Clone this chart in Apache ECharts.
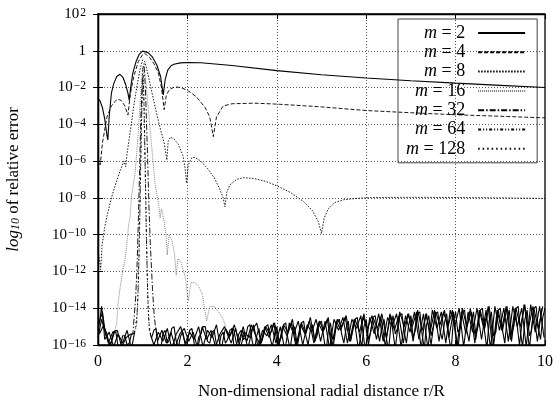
<!DOCTYPE html>
<html><head><meta charset="utf-8">
<script src="https://cdn.jsdelivr.net/npm/echarts@6/dist/echarts.min.js"></script>
<style>html,body{margin:0;padding:0;background:#fff}#c{width:553px;height:401px}</style>
</head><body><div id="c"></div>
<script>
// x tick labels and y exponent ticks
const xTicks = [0, 2, 4, 6, 8, 10];
const yExponents = [-16, -14, -12, -10, -8, -6, -4, -2, 0, 2];
const seriesNames = ['m = 2', 'm = 4', 'm = 8', 'm = 16', 'm = 32', 'm = 64', 'm = 128'];

// each point: [r/R, log10(relative error)]; null = break in the line
const m2 = [[0,-2.57],[0.05,-2.75],[0.1,-3.1],[0.15,-3.7],[0.2,-4.6],[0.22,-4.85],[0.25,-3.6],[0.3,-2.3],[0.35,-1.8],[0.42,-1.4],[0.49,-1.28],[0.56,-1.45],[0.62,-1.85],[0.67,-2.3],[0.7,-2.7],[0.73,-2.0],[0.78,-1.2],[0.85,-0.6],[0.92,-0.2],[1.0,-0.02],[1.04,0],[1.12,-0.1],[1.22,-0.35],[1.32,-0.8],[1.4,-1.4],[1.46,-2.4],[1.5,-1.6],[1.56,-1.05],[1.64,-0.8],[1.72,-0.72],[1.85,-0.66],[2.0,-0.64],[2.3,-0.65],[3.0,-0.8],[4.0,-1.08],[5.0,-1.3],[6.0,-1.48],[7.0,-1.63],[8.0,-1.76],[9.0,-1.88],[10.0,-2.0]];

const m4 = [[0,-5.8],[0.05,-6.2],[0.1,-5.0],[0.2,-3.6],[0.3,-3.0],[0.4,-2.7],[0.45,-2.64],[0.52,-2.7],[0.6,-3.0],[0.67,-3.5],[0.72,-2.4],[0.8,-1.4],[0.9,-0.6],[1.0,-0.2],[1.05,-0.15],[1.15,-0.35],[1.25,-0.7],[1.35,-1.2],[1.42,-2.0],[1.48,-3.2],[1.53,-2.4],[1.6,-2.1],[1.72,-1.96],[1.85,-2.0],[2.0,-2.15],[2.2,-2.5],[2.4,-3.1],[2.5,-3.6],[2.58,-4.67],[2.65,-3.6],[2.8,-3.0],[3.0,-2.88],[3.5,-2.85],[4.0,-2.9],[5.0,-3.05],[6.0,-3.25],[7.0,-3.37],[8.0,-3.48],[9.0,-3.56],[10.0,-3.65]];

const m8 = [[0,-10.9],[0.03,-11.3],[0.06,-11.9],[0.09,-10.6],[0.15,-9.6],[0.2,-9.0],[0.3,-8.0],[0.4,-7.2],[0.5,-6.5],[0.58,-6.0],[0.62,-6.3],[0.65,-5.6],[0.72,-4.4],[0.8,-3.0],[0.88,-1.8],[0.95,-0.9],[1.0,-0.5],[1.05,-0.6],[1.12,-1.3],[1.2,-2.2],[1.31,-3.4],[1.4,-4.3],[1.48,-5.0],[1.54,-5.94],[1.57,-4.9],[1.62,-4.7],[1.7,-4.8],[1.8,-5.1],[1.9,-5.7],[1.95,-6.4],[1.98,-7.2],[2.02,-6.2],[2.1,-5.8],[2.17,-5.8],[2.3,-6.0],[2.45,-6.4],[2.6,-6.9],[2.72,-7.5],[2.8,-8.0],[2.84,-8.48],[2.88,-7.7],[2.95,-7.3],[3.1,-7.0],[3.25,-6.9],[3.5,-6.95],[3.75,-7.1],[4.0,-7.34],[4.3,-7.7],[4.6,-8.2],[4.8,-8.7],[4.93,-9.3],[5.0,-9.93],[5.06,-9.1],[5.15,-8.6],[5.3,-8.25],[5.5,-8.1],[5.8,-8.02],[6.2,-7.98],[7,-7.97],[8,-7.98],[9,-8.0],[10,-8.03]];

const m16 = [[0.38,-15.2],[0.42,-14.8],[0.45,-13.7],[0.5,-12.8],[0.55,-12.0],[0.6,-11.4],[0.64,-10.65],[0.68,-9.6],[0.72,-9.0],[0.75,-7.9],[0.83,-6.67],[0.9,-4.5],[0.95,-2.5],[1.0,-1.0],[1.05,-1.2],[1.12,-3.0],[1.2,-5.2],[1.28,-7.3],[1.36,-8.4],[1.39,-9.1],[1.42,-8.6],[1.48,-9.3],[1.52,-10.0],[1.55,-11.1],[1.59,-10.0],[1.65,-10.3],[1.71,-11.0],[1.75,-12.2],[1.79,-11.3],[1.86,-11.5],[1.95,-12.3],[2.02,-13.6],[2.08,-12.6],[2.16,-12.6],[2.25,-12.8],[2.34,-13.3],[2.43,-14.7],[2.5,-13.9],[2.6,-13.9],[2.7,-14.2],[2.8,-14.6],[2.87,-15.1]];
const m16Floor = [[0,-15.6],[0.08,-14.6],[0.18,-15.5],[0.28,-16.0],[0.38,-15.2],[1.5,null],[2.88,-15.3],[2.98,-15.9],[3.08,-15.1],[3.18,-16.2],[3.28,-15.3],[3.38,-15.6],[3.48,-14.9],[3.58,-16.1],[3.68,-15.2],[3.78,-15.5],[3.88,-14.9],[3.98,-15.9],[4.08,-15.0],[4.18,-16.3],[4.28,-14.8],[4.38,-15.4],[4.48,-14.7],[4.58,-16.0],[4.68,-14.9],[4.78,-15.3],[4.88,-14.6],[4.98,-15.8],[5.08,-14.7],[5.18,-16.2],[5.28,-14.6],[5.38,-15.2],[5.48,-14.5],[5.58,-15.9],[5.68,-14.6],[5.78,-15.1],[5.88,-14.4],[5.98,-16.3],[6.08,-14.5],[6.18,-15.4],[6.28,-14.3],[6.38,-15.8],[6.48,-14.5],[6.58,-15.0],[6.68,-14.3],[6.78,-16.1],[6.88,-14.4],[6.98,-15.3],[7.08,-14.2],[7.18,-15.7],[7.28,-14.3],[7.38,-16.2],[7.48,-14.1],[7.58,-15.1],[7.68,-14.2],[7.78,-15.9],[7.88,-14.1],[7.98,-15.0],[8.08,-14.0],[8.18,-16.1],[8.28,-14.2],[8.38,-15.3],[8.48,-14.0],[8.58,-15.7],[8.68,-14.1],[8.78,-16.2],[8.88,-13.9],[8.98,-15.2],[9.08,-14.0],[9.18,-15.8],[9.28,-13.9],[9.38,-15.0],[9.48,-14.0],[9.58,-16.1],[9.68,-13.8],[9.78,-15.3],[9.88,-13.9],[9.98,-15.6]];

const m32 = [[0.73,-15.4],[0.78,-15.4],[0.84,-13.5],[0.87,-12.0],[0.9,-9.5],[0.93,-6.5],[0.96,-3.5],[1.0,-1.0],[1.03,-0.7],[1.06,-2.0],[1.1,-5.0],[1.14,-8.5],[1.17,-10.5],[1.22,-13.0],[1.26,-14.5],[1.33,-15.8]];
const m32Floor = [[0.03,-15.4],[0.13,-14.9],[0.23,-15.9],[0.33,-15.3],[0.43,-15.2],[0.53,-16.1],[0.63,-15.6],[0.73,-15.4],[1.0,null],[1.33,-15.8],[1.43,-15.2],[1.53,-15.9],[1.63,-15.3],[1.73,-16.1],[1.83,-15.4],[1.93,-15.1],[2.03,-15.8],[2.13,-15.3],[2.23,-16.2],[2.33,-15.0],[2.43,-15.7],[2.53,-15.2],[2.63,-16.1],[2.73,-15.4],[2.83,-15.0],[2.93,-15.6],[3.03,-15.1],[3.13,-16.3],[3.23,-15.2],[3.33,-15.8],[3.43,-14.9],[3.53,-15.5],[3.63,-16.0],[3.73,-15.0],[3.83,-15.6],[3.93,-14.8],[4.03,-16.2],[4.13,-15.0],[4.23,-15.5],[4.33,-14.8],[4.43,-16.1],[4.53,-14.9],[4.63,-15.4],[4.73,-14.7],[4.83,-15.9],[4.93,-14.8],[5.03,-15.3],[5.13,-14.6],[5.23,-16.2],[5.33,-14.7],[5.43,-15.2],[5.53,-14.5],[5.63,-15.8],[5.73,-14.6],[5.83,-16.3],[5.93,-14.5],[6.03,-15.1],[6.13,-14.4],[6.23,-15.7],[6.33,-14.5],[6.43,-16.1],[6.53,-14.3],[6.63,-15.2],[6.73,-14.4],[6.83,-15.9],[6.93,-14.3],[7.03,-15.0],[7.13,-14.2],[7.23,-16.2],[7.33,-14.3],[7.43,-15.3],[7.53,-14.1],[7.63,-15.8],[7.73,-14.2],[7.83,-15.0],[7.93,-14.1],[8.03,-16.1],[8.13,-14.2],[8.23,-15.4],[8.33,-14.0],[8.43,-15.9],[8.53,-14.1],[8.63,-15.1],[8.73,-13.9],[8.83,-16.3],[8.93,-14.1],[9.03,-15.2],[9.13,-13.9],[9.23,-15.7],[9.33,-14.0],[9.43,-16.0],[9.53,-13.8],[9.63,-15.1],[9.73,-13.9],[9.83,-15.8],[9.93,-14.0]];

const m64 = [[0.8,-15.4],[0.86,-15.0],[0.9,-13.0],[0.93,-9.5],[0.96,-5.5],[0.99,-2.0],[1.01,-1.2],[1.03,-3.0],[1.06,-7.0],[1.09,-11.0],[1.12,-14.0],[1.15,-15.2],[1.2,-15.6]];
const m64Floor = [[0,-15.0],[0.05,-14.6],[0.1,-14.2],[0.15,-15.1],[0.2,-15.4],[0.25,-16.0],[0.3,-15.8],[0.35,-15.3],[0.4,-15.3],[0.45,-16.1],[0.5,-16.2],[0.55,-15.5],[0.6,-15.5],[0.65,-16.0],[0.7,-15.9],[0.75,-15.4],[0.8,-15.4],[1.0,null],[1.2,-15.6],[1.25,-15.2],[1.3,-15.1],[1.35,-16.2],[1.4,-16.3],[1.45,-15.4],[1.5,-15.2],[1.55,-15.9],[1.6,-15.7],[1.65,-15.1],[1.7,-15.0],[1.75,-15.8],[1.8,-16.1],[1.85,-15.5],[1.9,-15.3],[1.95,-16.0],[2.0,-15.8],[2.05,-15.2],[2.1,-15.1],[2.15,-15.9],[2.2,-16.4],[2.25,-15.6],[2.3,-15.4],[2.35,-15.0],[2.4,-15.0],[2.45,-15.8],[2.5,-15.9],[2.55,-15.3],[2.6,-15.2],[2.65,-16.0],[2.7,-16.2],[2.75,-15.5],[2.8,-15.3],[2.85,-15.9],[2.9,-15.7],[2.95,-15.2],[3.0,-15.1],[3.05,-16.3],[3.1,-16.0],[3.15,-15.4],[3.2,-15.2],[3.25,-15.7],[3.3,-15.6],[3.35,-15.0],[3.4,-14.9],[3.45,-15.8],[3.5,-16.3],[3.55,-15.5],[3.6,-15.1],[3.65,-15.9],[3.7,-15.5],[3.75,-15.0],[3.8,-14.9],[3.85,-15.6],[3.9,-16.1],[3.95,-15.4],[4.0,-15.0],[4.05,-15.8],[4.1,-15.6],[4.15,-14.9],[4.2,-14.8],[4.25,-15.7],[4.3,-16.2],[4.35,-15.3],[4.4,-15.0],[4.45,-15.9],[4.5,-15.4],[4.55,-14.8],[4.6,-14.7],[4.65,-15.5],[4.7,-16.0],[4.75,-15.2],[4.8,-14.9],[4.85,-15.8],[4.9,-15.5],[4.95,-14.8],[5.0,-14.7],[5.05,-15.6],[5.1,-16.4],[5.15,-15.3],[5.2,-14.8],[5.25,-15.7],[5.3,-15.3],[5.35,-14.7],[5.4,-14.6],[5.45,-15.4],[5.5,-15.9],[5.55,-15.1],[5.6,-14.7],[5.65,-15.8],[5.7,-15.2],[5.75,-14.6],[5.8,-14.5],[5.85,-15.5],[5.9,-16.1],[5.95,-15.0],[6.0,-14.6],[6.05,-15.7],[6.1,-15.3],[6.15,-14.5],[6.2,-14.4],[6.25,-15.2],[6.3,-15.8],[6.35,-15.0],[6.4,-14.6],[6.45,-15.6],[6.5,-16.3],[6.55,-15.0],[6.6,-14.4],[6.65,-15.4],[6.7,-15.1],[6.75,-14.4],[6.8,-14.3],[6.85,-15.3],[6.9,-15.9],[6.95,-14.9],[7.0,-14.4],[7.05,-15.6],[7.1,-15.2],[7.15,-14.3],[7.2,-14.2],[7.25,-15.4],[7.3,-16.2],[7.35,-14.9],[7.4,-14.4],[7.45,-15.5],[7.5,-15.0],[7.55,-14.3],[7.6,-14.2],[7.65,-15.2],[7.7,-15.7],[7.75,-14.8],[7.8,-14.3],[7.85,-15.6],[7.9,-16.3],[7.95,-14.7],[8.0,-14.2],[8.05,-15.3],[8.1,-15.1],[8.15,-14.2],[8.2,-14.1],[8.25,-15.2],[8.3,-15.8],[8.35,-14.8],[8.4,-14.2],[8.45,-15.4],[8.5,-15.0],[8.55,-14.1],[8.6,-14.0],[8.65,-15.3],[8.7,-16.2],[8.75,-14.7],[8.8,-14.2],[8.85,-15.5],[8.9,-15.3],[8.95,-14.1],[9.0,-14.0],[9.05,-15.2],[9.1,-15.9],[9.15,-14.6],[9.2,-14.1],[9.25,-15.4],[9.3,-15.0],[9.35,-14.0],[9.4,-13.9],[9.45,-15.3],[9.5,-16.1],[9.55,-14.6],[9.6,-14.1],[9.65,-15.5],[9.7,-15.2],[9.75,-14.0],[9.8,-13.9],[9.85,-15.1],[9.9,-15.7],[9.95,-14.5],[10.0,-14.0]];

const m128 = [[0.82,-15.3],[0.88,-14.2],[0.92,-11.0],[0.95,-7.0],[0.98,-3.0],[1.0,-1.5],[1.02,-2.0],[1.05,-5.5],[1.08,-9.5],[1.11,-13.0],[1.14,-14.8],[1.17,-15.4]];
const m128Floor = [[0,-15.2],[0.05,-14.5],[0.08,-13.9],[0.12,-14.8],[0.15,-15.7],[0.25,-15.3],[0.35,-16.1],[0.45,-15.4],[0.55,-15.9],[0.65,-15.2],[0.75,-16.2],[0.82,-15.3],[1.0,null],[1.17,-15.4],[1.25,-16.0],[1.35,-15.3],[1.45,-15.8],[1.55,-15.1],[1.65,-16.2],[1.75,-15.4],[1.85,-15.0],[1.95,-15.9],[2.05,-15.3],[2.15,-15.7],[2.25,-15.0],[2.35,-16.1],[2.45,-15.2],[2.55,-15.6],[2.65,-14.9],[2.75,-16.3],[2.85,-15.1],[2.95,-15.5],[3.05,-14.9],[3.15,-15.8],[3.25,-15.0],[3.35,-16.2],[3.45,-15.2],[3.55,-14.8],[3.65,-15.9],[3.75,-15.0],[3.85,-15.4],[3.95,-14.8],[4.05,-16.0],[4.15,-14.9],[4.25,-15.3],[4.35,-14.6],[4.45,-16.2],[4.55,-14.8],[4.65,-15.4],[4.75,-14.5],[4.85,-15.8],[4.95,-14.7],[5.05,-15.2],[5.15,-14.5],[5.25,-16.3],[5.35,-14.6],[5.45,-15.0],[5.55,-14.4],[5.65,-15.7],[5.75,-14.6],[5.85,-15.3],[5.95,-14.3],[6.05,-16.0],[6.15,-14.5],[6.25,-15.1],[6.35,-14.3],[6.45,-15.6],[6.55,-14.4],[6.65,-16.2],[6.75,-14.2],[6.85,-15.0],[6.95,-14.3],[7.05,-15.8],[7.15,-14.1],[7.25,-15.2],[7.35,-14.3],[7.45,-16.0],[7.55,-14.2],[7.65,-14.9],[7.75,-14.1],[7.85,-15.6],[7.95,-14.2],[8.05,-16.3],[8.15,-14.0],[8.25,-15.0],[8.35,-14.2],[8.45,-15.7],[8.55,-14.1],[8.65,-15.1],[8.75,-13.9],[8.85,-16.0],[8.95,-14.1],[9.05,-15.2],[9.15,-13.9],[9.25,-15.8],[9.35,-14.0],[9.45,-15.0],[9.55,-13.8],[9.65,-16.2],[9.75,-14.0],[9.85,-15.1],[9.95,-13.9]];

const curveData = [m2, m4, m8, m16, m32, m64, m128];
const floorData = [m16Floor, m32Floor, m64Floor, m128Floor];
const dashes = ['solid', [4, 2], [1.5, 1.5], [1, 1], [6, 2, 1.5, 2], [3, 2, 1, 2, 1, 2], [1.5, 3]];
const colors = ['#000', '#000', '#000', '#777', '#000', '#000', '#000'];

const serif = 'Liberation Serif';
const chart = echarts.init(document.getElementById('c'), null, {renderer: 'canvas'});
const toPts = arr => arr.map(p => [p[0], p[1] == null ? '-' : Math.pow(10, p[1])]);

const yLabel = v => {
  const n = Math.round(Math.log10(v));
  if (n === 0) return '{b|1}';
  return '{b|10}{s|' + (n < 0 ? '\u2212' : '') + Math.abs(n) + '}';
};
const yRich = {
  b: {fontFamily: serif, fontSize: 15, color: '#000', lineHeight: 15, verticalAlign: 'bottom'},
  s: {fontFamily: serif, fontSize: 11.5, color: '#000', lineHeight: 11, verticalAlign: 'top', padding: [0, 0, 6, 1]}
};

const splitStyle = {show: true, lineStyle: {color: '#555', width: 1, type: [1, 2]}};
const axisLineStyle = {show: true, lineStyle: {color: '#000', width: 1.3}};
const tickStyle = {show: true, inside: true, length: 5, lineStyle: {color: '#000'}};

const series = seriesNames.map((name, i) => ({
  name: name, type: 'line', symbol: 'none', showSymbol: false, clip: true, z: 10 - i,
  lineStyle: {color: colors[i], width: i === 0 ? 1.1 : 0.9, type: dashes[i]},
  itemStyle: {color: colors[i]},
  emphasis: {disabled: true},
  data: toPts(curveData[i])
}));
floorData.forEach((arr, k) => series.push({
  name: seriesNames[3 + k] + ' floor', type: 'line', symbol: 'none', showSymbol: false, clip: true, z: 2,
  connectNulls: false,
  lineStyle: {color: '#000', width: 1.1, type: 'solid'},
  emphasis: {disabled: true},
  data: toPts(arr)
}));

chart.setOption({
  animation: false,
  backgroundColor: '#fff',
  grid: {left: 98, right: 8, top: 14, bottom: 56, show: true, borderColor: '#000', borderWidth: 1.3,
    outerBoundsMode: 'none', containLabel: false},
  legend: {
    data: seriesNames,
    orient: 'vertical',
    align: 'right',
    left: 398, top: 19,
    padding: [5, 11, 5, 8],
    itemGap: 1.3,
    itemWidth: 47,
    itemHeight: 14,
    borderColor: '#444',
    borderWidth: 1,
    itemStyle: {opacity: 0, color: 'transparent', borderWidth: 0},
    formatter: name => '{i|m} = ' + name.split('= ')[1],
    textStyle: {fontFamily: serif, fontSize: 18, color: '#000', padding: [0, 8, 0, 0],
      rich: {i: {fontFamily: serif, fontStyle: 'italic', fontSize: 18, color: '#000'}}}
  },
  xAxis: [{
    type: 'value', min: xTicks[0], max: xTicks[xTicks.length - 1], interval: xTicks[1] - xTicks[0],
    position: 'bottom', axisLine: axisLineStyle, axisTick: tickStyle,
    axisLabel: {fontFamily: serif, fontSize: 16, color: '#000', margin: 9},
    splitLine: splitStyle,
    name: 'Non-dimensional radial distance r/R',
    nameLocation: 'middle', nameGap: 38,
    nameTextStyle: {fontFamily: serif, fontSize: 17, color: '#000'}
  }, {
    type: 'value', min: xTicks[0], max: xTicks[xTicks.length - 1], interval: xTicks[1] - xTicks[0],
    position: 'top', axisLine: axisLineStyle, axisTick: tickStyle,
    axisLabel: {show: false}, splitLine: {show: false}
  }],
  yAxis: [{
    type: 'log', logBase: 10, min: Math.pow(10, yExponents[0]), max: Math.pow(10, yExponents[yExponents.length - 1]),
    interval: yExponents[1] - yExponents[0],
    position: 'left', axisLine: axisLineStyle, axisTick: tickStyle,
    axisLabel: {formatter: yLabel, rich: yRich, margin: 12},
    splitLine: splitStyle,
    name: '{i|log}{sub|10} of relative error',
    nameLocation: 'middle', nameGap: 76, nameRotate: 90,
    nameTextStyle: {fontFamily: serif, fontSize: 17, color: '#000',
      rich: {
        i: {fontFamily: serif, fontStyle: 'italic', fontSize: 17, color: '#000', lineHeight: 16, verticalAlign: 'top'},
        sub: {fontFamily: serif, fontStyle: 'italic', fontSize: 12, color: '#000', lineHeight: 12, verticalAlign: 'bottom', padding: [7, 0, 0, 0]}
      }}
  }, {
    type: 'log', logBase: 10, min: Math.pow(10, yExponents[0]), max: Math.pow(10, yExponents[yExponents.length - 1]),
    interval: yExponents[1] - yExponents[0],
    position: 'right', axisLine: axisLineStyle, axisTick: tickStyle,
    axisLabel: {show: false}, splitLine: {show: false}
  }],
  series: series
});
</script>
</body></html>
